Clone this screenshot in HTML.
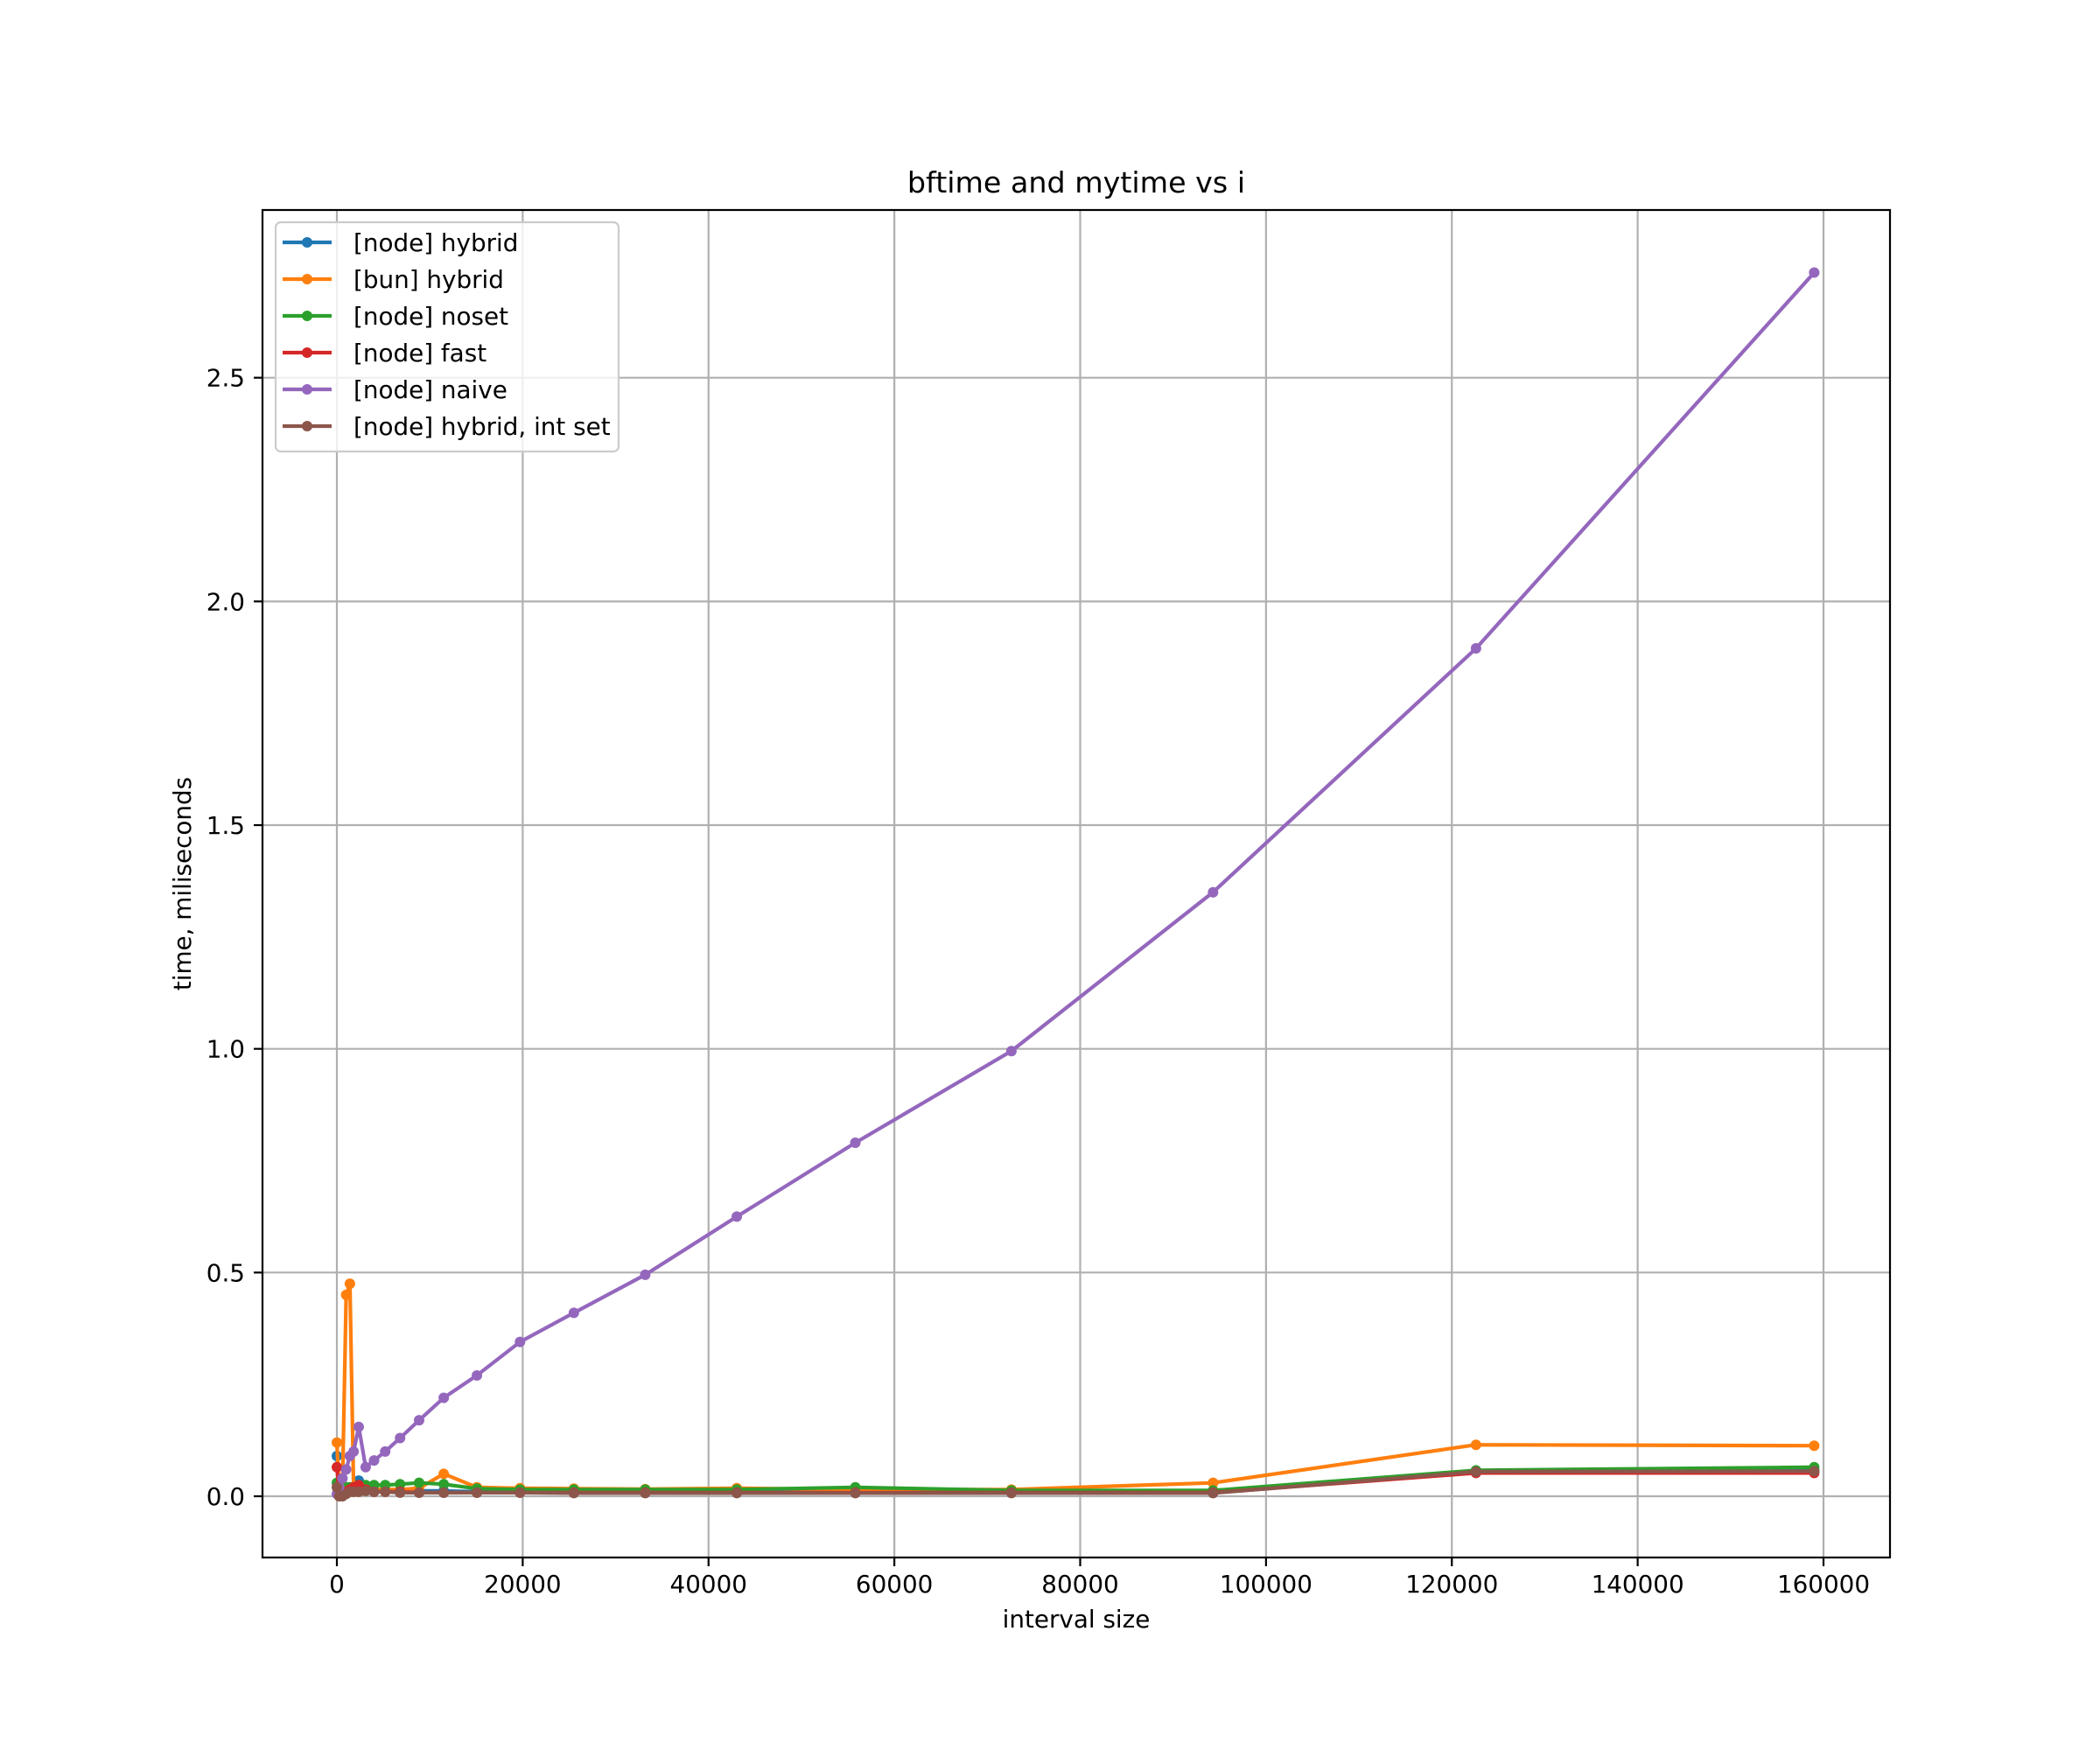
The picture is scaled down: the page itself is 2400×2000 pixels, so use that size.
<!DOCTYPE html>
<html><head><meta charset="utf-8"><style>
html,body{margin:0;padding:0;background:#fff;}
svg{display:block;font-family:"DejaVu Sans","Liberation Sans",sans-serif;}
</style></head><body>
<svg id="s" width="2400" height="2000" viewBox="0 0 2400 2000" xmlns="http://www.w3.org/2000/svg">
<rect width="2400" height="2000" fill="#fff"/>
<g id="grid"></g>
<g id="data"></g>
<rect x="300" y="240" width="1860" height="1540" fill="none" stroke="#000" stroke-width="2.2"/>
<g id="ticks"></g>
<text x="1230" y="220" font-size="33.3" text-anchor="middle">bftime and mytime vs i</text>
<text x="1230" y="1860" font-size="27.8" text-anchor="middle">interval size</text>
<text transform="translate(218,1010) rotate(-90)" font-size="27.8" text-anchor="middle">time, miliseconds</text>
<g id="legend"></g>
</svg>
<script>
var NS="http://www.w3.org/2000/svg";
function el(p,t,a,txt){var e=document.createElementNS(NS,t);for(var k in a)e.setAttribute(k,a[k]);if(txt!==undefined)e.textContent=txt;document.getElementById(p).appendChild(e);return e;}
function X(v){return 385+v*1699/160000;}
function Y(v){return 1710-v*511.33;}
var grid="#b0b0b0";
[0,20000,40000,60000,80000,100000,120000,140000,160000].forEach(function(v){
 var x=X(v);el("grid","line",{x1:x,y1:240,x2:x,y2:1780,stroke:grid,"stroke-width":2.2});
 el("ticks","line",{x1:x,y1:1780,x2:x,y2:1790,stroke:"#000","stroke-width":2.2});
 el("ticks","text",{x:x,y:1820,"font-size":27.8,"text-anchor":"middle"},String(v));
});
[0,0.5,1,1.5,2,2.5].forEach(function(v){
 var y=Y(v);el("grid","line",{x1:300,y1:y,x2:2160,y2:y,stroke:grid,"stroke-width":2.2});
 el("ticks","line",{x1:290,y1:y,x2:300,y2:y,stroke:"#000","stroke-width":2.2});
 el("ticks","text",{x:280,y:y+10,"font-size":27.8,"text-anchor":"end"},v.toFixed(1));
});
var xs=[0,250,600,1000,1400,1800,2350,3100,4000,5200,6800,8850,11500,15072,19710,25507,33188,43043,55800,72600,94300,122600,159000];
var S=[
 ["#1f77b4","[node] hybrid",[0.09,0.01,0.01,0.01,0.015,0.02,0.035,0.02,0.015,0.015,0.013,0.012,0.012,0.01,0.01,0.01,0.01,0.01,0.01,0.01,0.01,0.055,0.058]],
 ["#ff7f0e","[bun] hybrid",[0.12,0.01,0.02,0.45,0.475,0.02,0.01,0.015,0.015,0.015,0.015,0.018,0.05,0.02,0.018,0.017,0.016,0.018,0.015,0.015,0.03,0.115,0.113]],
 ["#2ca02c","[node] noset",[0.03,0.03,0.025,0.02,0.02,0.02,0.025,0.025,0.025,0.025,0.027,0.03,0.027,0.017,0.015,0.015,0.015,0.015,0.02,0.013,0.013,0.058,0.065]],
 ["#d62728","[node] fast",[0.065,0.005,0.01,0.01,0.015,0.02,0.025,0.015,0.01,0.01,0.01,0.008,0.008,0.008,0.008,0.008,0.008,0.008,0.008,0.008,0.008,0.052,0.052]],
 ["#9467bd","[node] naive",[0.005,0.02,0.04,0.06,0.09,0.1,0.155,0.065,0.08,0.1,0.13,0.17,0.22,0.27,0.345,0.41,0.495,0.625,0.79,0.995,1.35,1.895,2.735]],
 ["#8c564b","[node] hybrid, int set",[0.02,0,0,0.005,0.01,0.01,0.01,0.012,0.01,0.01,0.008,0.008,0.008,0.008,0.008,0.007,0.007,0.007,0.007,0.007,0.007,0.055,0.056]]
];
S.forEach(function(s){
 var pts=xs.map(function(x,i){return X(x).toFixed(1)+","+Y(s[2][i]).toFixed(1);}).join(" ");
 el("data","polyline",{points:pts,fill:"none",stroke:s[0],"stroke-width":4.2,"stroke-linejoin":"round","stroke-linecap":"square"});
 xs.forEach(function(x,i){el("data","circle",{cx:X(x),cy:Y(s[2][i]),r:6,fill:s[0]});});
});
el("legend","rect",{x:315,y:254,width:392,height:262,rx:6,fill:"#fff","fill-opacity":0.8,stroke:"#cccccc","stroke-width":2.2});
S.forEach(function(s,i){
 var y=277+i*42;
 el("legend","line",{x1:323,y1:y,x2:379,y2:y,stroke:s[0],"stroke-width":4.2});
 el("legend","circle",{cx:351,cy:y,r:6,fill:s[0]});
 el("legend","text",{x:404,y:y+10,"font-size":27.8},s[1]);
});
</script>
</body></html>
